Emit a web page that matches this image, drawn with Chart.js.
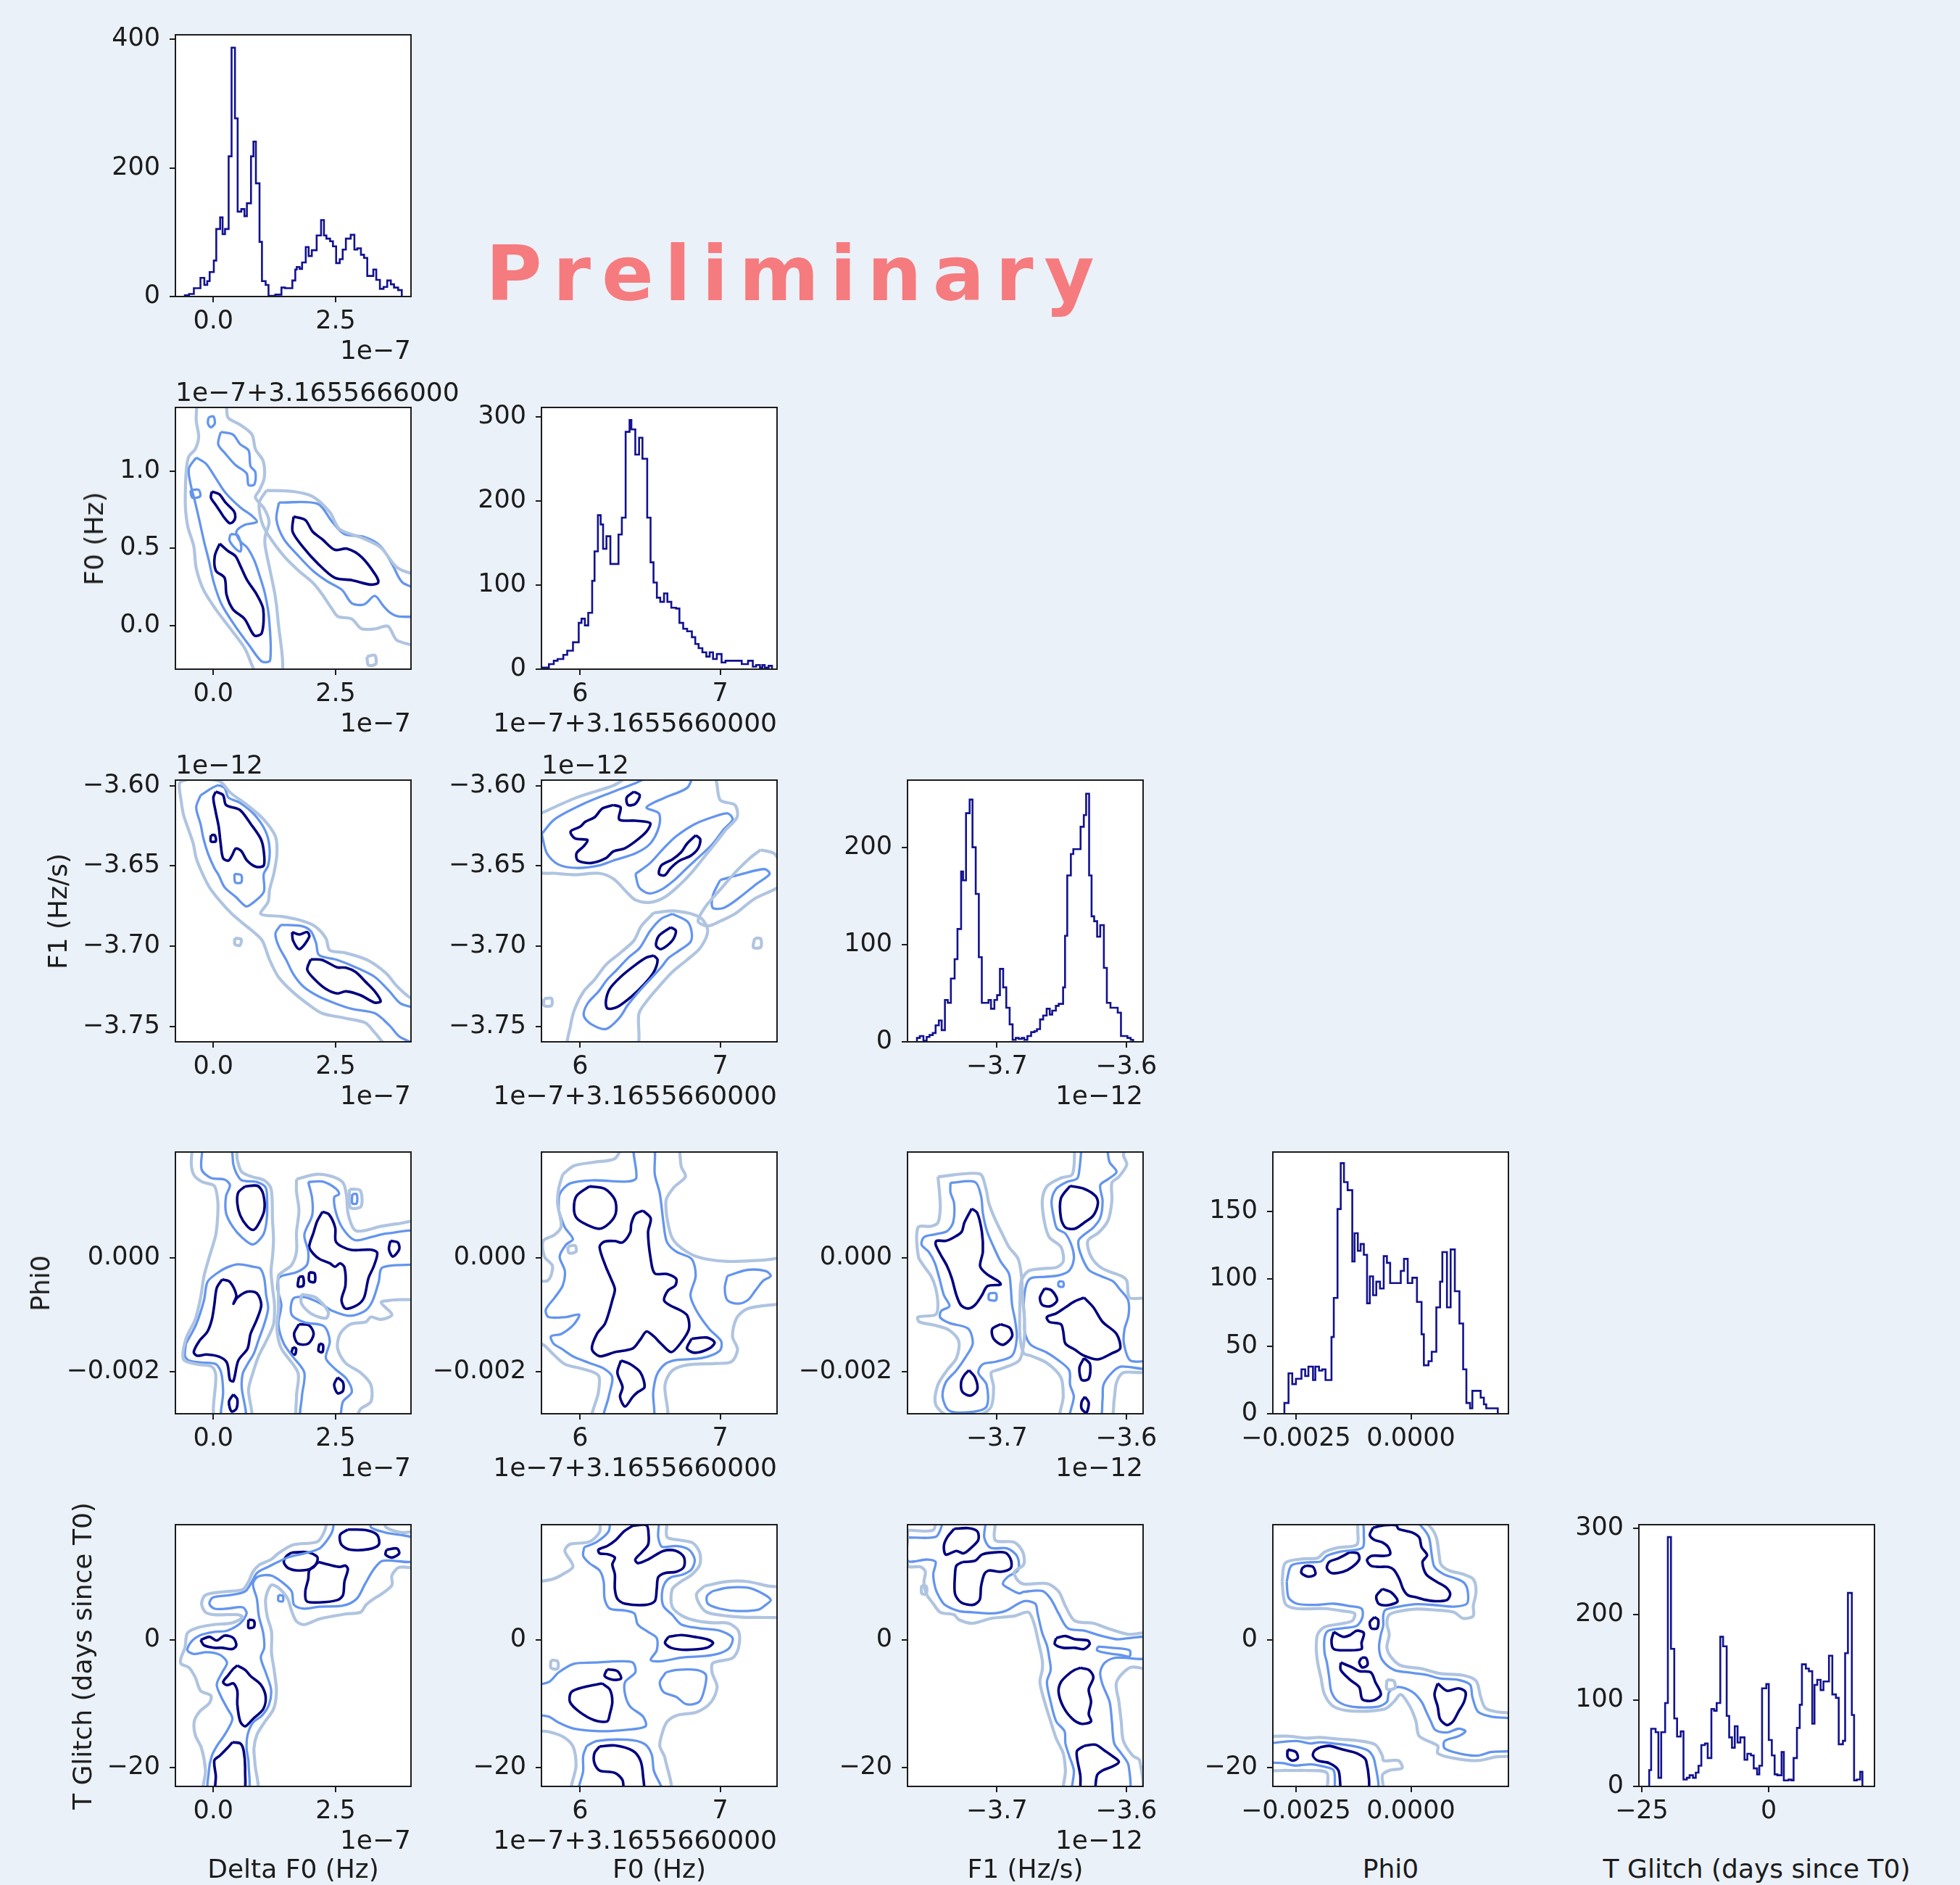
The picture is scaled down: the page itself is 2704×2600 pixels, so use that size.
<!DOCTYPE html>
<html>
<head>
<meta charset="utf-8">
<script src="https://cdn.jsdelivr.net/npm/chart.js@4.4.1/dist/chart.umd.min.js"></script>
<style>
  html, body { margin: 0; padding: 0; }
  body { position: relative; width: 2704px; height: 2600px; overflow: hidden; background: #ebf1f8;
         font-family: "DejaVu Sans", sans-serif; color: #1c1c1c; }
  canvas { position: absolute; }
  .t { position: absolute; white-space: nowrap; line-height: 1; }
</style>
</head>
<body>
<script>
// ---------- axis ranges / ticks (display units: Delta F0 x1e-7, F0 x1e-7 + offset, F1 x1e-12) ----------
const dF0Range = [-0.775, 4.04];
const dF0Ticks = [0, 2.5];
const dF0TickLabels = ['0.0', '2.5'];
const f0Range = [5.724, 7.406];
const f0Ticks = [6, 7];
const f0TickLabels = ['6', '7'];
const f0RowRange = [-0.280, 1.410];
const f0RowTicks = [0, 0.5, 1.0];
const f0RowTickLabels = ['0.0', '0.5', '1.0'];
const f1Range = [-3.769, -3.587];
const f1Ticks = [-3.7, -3.6];
const f1TickLabels = ['−3.7', '−3.6'];
const f1RowRange = [-3.7595, -3.5966];
const f1RowTicks = [-3.75, -3.70, -3.65, -3.60];
const f1RowTickLabels = ['−3.75', '−3.70', '−3.65', '−3.60'];
const phiRange = [-3.002e-3, 2.119e-3];
const phiTicks = [-0.0025, 0];
const phiTickLabels = ['−0.0025', '0.0000'];
const phiRowRange = [-2.733e-3, 1.852e-3];
const phiRowTicks = [-0.002, 0];
const phiRowTickLabels = ['−0.002', '0.000'];
const tgRange = [-25.55, 20.79];
const tgTicks = [-25, 0];
const tgTickLabels = ['−25', '0'];
const tgRowRange = [-23.0, 18.04];
const tgRowTicks = [-20, 0];
const tgRowTickLabels = ['−20', '0'];

const paramNames = ['Delta F0 (Hz)', 'F0 (Hz)', 'F1 (Hz/s)', 'Phi0', 'T Glitch (days since T0)'];
const colOffsets = ['1e−7', '1e−7+3.1655660000', '1e−12', '', ''];
const rowOffsets = ['', '1e−7+3.1655666000', '1e−12', '', ''];

// ---------- 1D histograms ----------
const dF0Edges = [-0.582,-0.497,-0.398,-0.263,-0.184,-0.124,-0.075,0.010,0.060,0.139,0.189,0.239,0.313,0.373,0.442,0.497,0.572,0.636,0.686,0.770,0.820,0.870,0.944,0.994,1.069,1.128,1.267,1.392,1.466,1.615,1.675,1.705,1.764,1.814,1.889,1.948,2.013,2.112,2.202,2.261,2.311,2.386,2.445,2.510,2.584,2.644,2.709,2.808,2.883,2.942,3.017,3.081,3.146,3.270,3.330,3.405,3.479,3.554,3.628,3.693,3.777,3.852];
const dF0Counts = [2,4,13,29,18,24,38,56,105,123,97,105,218,387,277,132,136,125,145,218,241,176,85,24,18,1,3,14,13,25,42,46,43,53,77,63,72,95,119,95,90,86,78,52,58,73,90,96,73,75,65,60,32,42,26,12,15,25,19,14,10];

const f0Edges = [5.733,5.777,5.812,5.839,5.880,5.908,5.949,5.990,6.010,6.034,6.058,6.086,6.103,6.127,6.147,6.164,6.188,6.216,6.240,6.274,6.298,6.325,6.353,6.366,6.394,6.421,6.445,6.479,6.503,6.524,6.548,6.572,6.599,6.623,6.651,6.685,6.709,6.736,6.764,6.798,6.822,6.846,6.873,6.901,6.925,6.949,6.976,7.010,7.038,7.079,7.130,7.154,7.199,7.233,7.257,7.284,7.301,7.318,7.346,7.370];
const f0Counts = [2,6,10,12,17,22,32,55,60,52,67,105,140,183,172,143,158,125,125,160,180,282,296,285,255,275,250,180,127,103,85,80,90,80,73,72,55,48,45,38,30,25,20,15,20,12,18,8,10,10,10,6,10,3,5,2,5,2,4];

const f1Edges = [-3.7617,-3.7595,-3.7567,-3.7542,-3.7520,-3.7495,-3.7473,-3.7448,-3.7426,-3.7401,-3.7379,-3.7355,-3.7326,-3.7304,-3.7276,-3.7261,-3.7238,-3.7210,-3.7188,-3.7163,-3.7139,-3.7116,-3.7064,-3.7045,-3.7019,-3.6998,-3.6976,-3.6951,-3.6927,-3.6901,-3.6878,-3.6854,-3.6831,-3.6807,-3.6788,-3.6764,-3.6735,-3.6709,-3.6690,-3.6666,-3.6642,-3.6615,-3.6591,-3.6572,-3.6544,-3.6522,-3.6488,-3.6473,-3.6456,-3.6428,-3.6409,-3.6353,-3.6328,-3.6310,-3.6287,-3.6268,-3.6248,-3.6225,-3.6201,-3.6173,-3.6150,-3.6122,-3.6103,-3.6066,-3.6041,-3.5991,-3.5966,-3.5947];
const f1Counts = [4,6,1,5,7,9,17,22,12,43,40,65,85,116,175,166,235,249,200,152,87,40,43,34,43,48,75,56,35,18,2,4,3,4,2,6,10,11,13,23,27,34,28,32,37,39,56,109,171,193,198,221,233,255,171,129,124,108,120,76,40,35,35,30,6,4,2];

const phiEdges = [-2.751e-3,-2.661e-3,-2.580e-3,-2.500e-3,-2.380e-3,-2.299e-3,-2.229e-3,-2.129e-3,-2.078e-3,-1.998e-3,-1.928e-3,-1.857e-3,-1.727e-3,-1.677e-3,-1.596e-3,-1.526e-3,-1.456e-3,-1.376e-3,-1.275e-3,-1.225e-3,-1.155e-3,-1.094e-3,-1.024e-3,-0.954e-3,-0.894e-3,-0.823e-3,-0.753e-3,-0.673e-3,-0.592e-3,-0.522e-3,-0.452e-3,-0.221e-3,-0.151e-3,-0.070e-3,0.030e-3,0.131e-3,0.231e-3,0.281e-3,0.382e-3,0.452e-3,0.552e-3,0.633e-3,0.683e-3,0.783e-3,0.863e-3,0.954e-3,1.054e-3,1.135e-3,1.205e-3,1.285e-3,1.335e-3,1.436e-3,1.516e-3,1.586e-3,1.637e-3,1.888e-3];
const phiCounts = [8,30,22,26,33,28,35,25,35,32,33,25,57,86,152,186,172,166,113,134,121,126,118,82,102,88,98,93,117,112,97,106,115,97,101,83,59,36,39,46,79,98,120,79,122,91,67,33,8,4,17,17,12,7,4];

const tgEdges = [-23.52,-23.14,-22.26,-21.71,-21.16,-20.39,-19.85,-19.24,-18.59,-18.04,-17.32,-16.78,-16.12,-15.57,-14.91,-14.36,-13.82,-13.27,-12.55,-12.01,-11.29,-10.75,-10.25,-9.54,-8.99,-8.28,-7.79,-7.24,-6.69,-6.14,-5.59,-4.77,-4.22,-3.51,-2.96,-2.30,-1.86,-1.32,-0.49,0.00,0.60,1.15,1.70,2.52,2.96,3.89,4.44,4.88,5.54,6.09,6.52,7.29,7.89,8.55,8.99,9.54,10.20,10.75,11.84,12.50,13.21,13.76,14.58,15.02,15.57,16.34,16.78,17.32,17.98,18.42];
const tgCounts = [19,67,63,10,63,97,290,160,79,58,64,8,10,13,10,16,24,48,50,33,90,88,97,174,163,82,57,45,70,51,57,31,38,36,21,14,24,114,119,54,36,14,13,40,7,8,7,33,68,95,142,137,134,73,118,124,112,122,152,107,103,49,53,155,225,83,7,8,17];

const histYMax = [407, 311, 269, 194.3, 304.4];
const histYTicks = [[0, 200, 400], [0, 100, 200, 300], [0, 100, 200], [0, 50, 100, 150], [0, 100, 200, 300]];

// ---------- 2D contour paths (three levels), x/y pairs ----------
const f0VsDf0Light = [
  [-0.33,1.455, 0.23,1.455, 0.30,1.345, 0.55,1.298, 0.79,1.235, 0.86,1.141, 1.02,1.063, 1.04,0.953, 0.94,0.875, 0.86,0.828, 1.04,0.757, 1.14,0.671, 1.06,0.577, 1.06,0.514, 1.16,0.357, 1.26,0.201, 1.32,0.044, 1.39,-0.332, 0.94,-0.332, 0.64,-0.144, 0.35,-0.019, 0.05,0.107, -0.20,0.232, -0.35,0.373, -0.40,0.514, -0.52,0.639, -0.57,0.765, -0.57,0.890, -0.55,1.016, -0.50,1.094, -0.37,1.141, -0.30,1.219, -0.35,1.329],
  [1.09,0.875, 1.64,0.867, 2.03,0.835, 2.38,0.734, 2.58,0.624, 3.03,0.569, 3.42,0.506, 3.77,0.373, 4.41,0.279, 4.41,-0.113, 3.77,-0.097, 3.57,-0.003, 3.32,-0.019, 3.03,-0.019, 2.83,0.044, 2.55,0.060, 2.43,0.107, 2.23,0.201, 2.03,0.279, 1.74,0.357, 1.44,0.451, 1.14,0.577, 0.99,0.671, 0.94,0.796],
  [3.14,-0.199, 3.30,-0.191, 3.32,-0.246, 3.17,-0.254]
];
const f0VsDf0Mid = [
  [-0.35,1.086, -0.15,1.047, 0.05,0.953, 0.25,0.859, 0.55,0.765, 0.79,0.710, 0.89,0.671, 0.64,0.652, 0.47,0.608, 0.55,0.545, 0.69,0.506, 0.84,0.420, 0.96,0.310, 1.06,0.201, 1.14,0.044, 1.16,-0.223, 0.99,-0.230, 0.74,-0.129, 0.45,-0.003, 0.17,0.138, 0.01,0.279, -0.09,0.420, -0.19,0.545, -0.29,0.687, -0.37,0.796, -0.47,0.922, -0.50,1.016],
  [0.15,1.251, 0.40,1.235, 0.55,1.172, 0.72,1.133, 0.76,1.031, 0.86,0.992, 0.84,0.914, 0.72,0.909, 0.68,0.984, 0.45,1.039, 0.25,1.110, 0.10,1.172],
  [-0.10,1.345, 0.0,1.353, 0.03,1.306, -0.05,1.282, -0.11,1.306],
  [0.35,0.592, 0.50,0.585, 0.57,0.514, 0.55,0.480, 0.43,0.506, 0.33,0.553],
  [-0.47,0.875, -0.30,0.878, -0.27,0.836, -0.43,0.828],
  [1.34,0.796, 2.13,0.788, 2.43,0.671, 2.68,0.592, 3.08,0.574, 3.42,0.514, 3.67,0.389, 3.87,0.279, 4.41,0.201, 4.32,0.075, 3.80,0.060, 3.62,0.083, 3.47,0.130, 3.30,0.193, 3.08,0.138, 2.83,0.146, 2.63,0.232, 2.33,0.287, 2.03,0.357, 1.74,0.451, 1.44,0.561, 1.29,0.687]
];
const f0VsDf0Dark = [
  [-0.03,0.867, 0.12,0.85, 0.25,0.796, 0.42,0.74, 0.45,0.702, 0.40,0.67, 0.33,0.663, 0.22,0.70, 0.15,0.733, 0.05,0.78, -0.05,0.828],
  [0.13,0.530, 0.03,0.451, 0.05,0.357, 0.23,0.310, 0.27,0.201, 0.40,0.107, 0.64,0.044, 0.84,-0.063, 0.99,-0.047, 1.02,0.107, 0.89,0.201, 0.69,0.295, 0.55,0.389, 0.45,0.451, 0.30,0.483],
  [1.64,0.705, 1.88,0.683, 2.03,0.608, 2.23,0.558, 2.48,0.491, 2.73,0.498, 3.03,0.444, 3.32,0.326, 3.37,0.279, 3.22,0.266, 2.83,0.295, 2.48,0.310, 2.13,0.404, 1.84,0.506, 1.62,0.608]
];

const f1VsDf0Light = [
  [-0.54,-3.5962, 0.11,-3.5970, 0.35,-3.6045, 0.69,-3.6121, 1.03,-3.6211, 1.27,-3.6317, 1.30,-3.6422, 1.24,-3.6543, 1.15,-3.6648, 1.12,-3.6724, 0.97,-3.6799, 1.38,-3.6814, 1.76,-3.6837, 2.07,-3.6874, 2.30,-3.6950, 2.38,-3.7025, 2.68,-3.7040, 3.14,-3.7085, 3.53,-3.7168, 3.76,-3.7251, 4.06,-3.7327, 4.68,-3.7387, 4.68,-3.7628, 3.60,-3.7628, 3.30,-3.7538, 3.11,-3.7477, 2.68,-3.7447, 2.22,-3.7417, 1.92,-3.7357, 1.61,-3.7281, 1.33,-3.7191, 1.15,-3.7085, 1.00,-3.6965, 0.81,-3.6908, 0.61,-3.6859, 0.38,-3.6799, 0.15,-3.6724, -0.08,-3.6633, -0.23,-3.6543, -0.35,-3.6452, -0.41,-3.6362, -0.51,-3.6271, -0.61,-3.6181, -0.66,-3.6090, -0.69,-3.5985],
  [0.44,-3.6950, 0.57,-3.6957, 0.54,-3.6995, 0.44,-3.6987]
];
const f1VsDf0Mid = [
  [-0.26,-3.6060, 0.08,-3.6000, 0.23,-3.6015, 0.31,-3.6075, 0.54,-3.6106, 0.84,-3.6181, 1.07,-3.6286, 1.15,-3.6392, 1.12,-3.6498, 1.03,-3.6550, 1.03,-3.6663, 0.77,-3.6739, 0.66,-3.6751, 0.46,-3.6694, 0.23,-3.6633, 0.11,-3.6558, 0.02,-3.6513, -0.11,-3.6422, -0.20,-3.6332, -0.26,-3.6241, -0.35,-3.6136],
  [1.38,-3.6867, 1.79,-3.6874, 1.99,-3.6905, 2.10,-3.6980, 2.16,-3.7055, 2.53,-3.7085, 2.91,-3.7131, 3.30,-3.7191, 3.60,-3.7281, 3.83,-3.7357, 4.37,-3.7417, 4.37,-3.7613, 3.83,-3.7568, 3.60,-3.7493, 3.30,-3.7417, 2.84,-3.7390, 2.53,-3.7360, 2.15,-3.7312, 1.84,-3.7251, 1.64,-3.7176, 1.49,-3.7085, 1.33,-3.6995, 1.27,-3.6920],
  [0.43,-3.6550, 0.57,-3.6558, 0.57,-3.6603, 0.45,-3.6603]
];
const f1VsDf0Dark = [
  [0.05,-3.6038, 0.20,-3.6060, 0.26,-3.6121, 0.54,-3.6151, 0.77,-3.6241, 0.97,-3.6332, 1.03,-3.6407, 1.03,-3.6498, 0.87,-3.6505, 0.69,-3.6467, 0.57,-3.6407, 0.46,-3.6392, 0.38,-3.6437, 0.31,-3.6467, 0.20,-3.6452, 0.15,-3.6362, 0.11,-3.6256, 0.05,-3.6166, 0.00,-3.6075],
  [-0.05,-3.6309, 0.03,-3.6309, 0.05,-3.6347, -0.05,-3.6347],
  [1.61,-3.6912, 1.76,-3.6927, 1.92,-3.6912, 1.96,-3.6942, 1.76,-3.7018, 1.63,-3.6965],
  [1.99,-3.7082, 2.22,-3.7085, 2.53,-3.7131, 2.71,-3.7134, 2.91,-3.7161, 3.11,-3.7221, 3.30,-3.7281, 3.42,-3.7342, 3.30,-3.7351, 3.00,-3.7304, 2.71,-3.7281, 2.53,-3.7294, 2.30,-3.7266, 2.07,-3.7206, 1.92,-3.7146]
];

const f1VsF0Light = [
  [5.700,-3.6181, 5.974,-3.6075, 6.237,-3.6000, 6.368,-3.5940, 6.947,-3.5940, 7.0,-3.6090, 7.105,-3.6121, 7.121,-3.6196, 7.037,-3.6279, 6.963,-3.6362, 6.879,-3.6452, 6.795,-3.6543, 6.711,-3.6618, 6.605,-3.6694, 6.500,-3.6727, 6.395,-3.6712, 6.332,-3.6663, 6.237,-3.6580, 6.132,-3.6546, 5.974,-3.6555, 5.816,-3.6546, 5.700,-3.6531],
  [7.289,-3.6400, 7.395,-3.6430, 7.447,-3.6603, 7.237,-3.6709, 7.105,-3.6799, 7.0,-3.6844, 6.911,-3.6874, 6.842,-3.6844, 6.895,-3.6754, 7.0,-3.6648, 7.105,-3.6543, 7.211,-3.6452],
  [6.526,-3.6792, 6.684,-3.6781, 6.858,-3.6822, 6.911,-3.6905, 6.858,-3.7010, 6.763,-3.7085, 6.658,-3.7161, 6.563,-3.7251, 6.489,-3.7327, 6.421,-3.7417, 6.395,-3.7628, 5.921,-3.7628, 5.932,-3.7493, 5.963,-3.7387, 6.026,-3.7281, 6.105,-3.7206, 6.184,-3.7116, 6.289,-3.7040, 6.384,-3.6965, 6.437,-3.6874],
  [5.742,-3.7327, 5.795,-3.7324, 5.795,-3.7369, 5.742,-3.7369],
  [7.247,-3.6950, 7.289,-3.6953, 7.289,-3.7007, 7.237,-3.7007]
];
const f1VsF0Mid = [
  [5.726,-3.6302, 5.816,-3.6211, 6.026,-3.6113, 6.237,-3.6038, 6.395,-3.5985, 6.500,-3.5947, 6.789,-3.5947, 6.763,-3.6015, 6.605,-3.6075, 6.474,-3.6136, 6.563,-3.6173, 6.563,-3.6256, 6.500,-3.6362, 6.395,-3.6422, 6.237,-3.6467, 6.132,-3.6498, 5.974,-3.6513, 5.842,-3.6490, 5.763,-3.6422],
  [6.395,-3.6550, 6.500,-3.6482, 6.595,-3.6392, 6.684,-3.6317, 6.816,-3.6241, 6.947,-3.6196, 7.053,-3.6173, 7.089,-3.6211, 7.026,-3.6272, 6.947,-3.6362, 6.858,-3.6437, 6.763,-3.6513, 6.684,-3.6580, 6.579,-3.6648, 6.489,-3.6671, 6.421,-3.6633],
  [7.0,-3.6588, 7.158,-3.6550, 7.316,-3.6520, 7.353,-3.6550, 7.263,-3.6610, 7.132,-3.6701, 7.026,-3.6761, 6.947,-3.6761, 6.947,-3.6686],
  [6.658,-3.6799, 6.763,-3.6844, 6.795,-3.6905, 6.789,-3.6972, 6.711,-3.7025, 6.632,-3.7073, 6.579,-3.7131, 6.500,-3.7206, 6.421,-3.7281, 6.342,-3.7364, 6.279,-3.7447, 6.184,-3.7515, 6.079,-3.7485, 6.026,-3.7432, 6.053,-3.7357, 6.132,-3.7281, 6.195,-3.7206, 6.263,-3.7146, 6.342,-3.7073, 6.426,-3.7010, 6.500,-3.6905, 6.579,-3.6829]
];
const f1VsF0Dark = [
  [6.237,-3.6121, 6.289,-3.6136, 6.279,-3.6211, 6.395,-3.6219, 6.500,-3.6234, 6.474,-3.6286, 6.395,-3.6347, 6.316,-3.6392, 6.237,-3.6410, 6.184,-3.6452, 6.079,-3.6482, 5.984,-3.6467, 5.974,-3.6422, 6.026,-3.6377, 6.053,-3.6339, 5.963,-3.6329, 5.932,-3.6286, 6.000,-3.6256, 6.037,-3.6226, 6.105,-3.6196, 6.158,-3.6143],
  [6.384,-3.6038, 6.426,-3.6060, 6.395,-3.6113, 6.342,-3.6121, 6.332,-3.6075],
  [6.826,-3.6309, 6.858,-3.6335, 6.842,-3.6392, 6.789,-3.6437, 6.711,-3.6467, 6.647,-3.6513, 6.605,-3.6558, 6.563,-3.6550, 6.579,-3.6498, 6.658,-3.6460, 6.721,-3.6415, 6.763,-3.6362],
  [6.647,-3.6882, 6.684,-3.6905, 6.658,-3.6965, 6.579,-3.7018, 6.542,-3.6995, 6.563,-3.6935],
  [6.526,-3.7058, 6.553,-3.7085, 6.526,-3.7161, 6.458,-3.7236, 6.368,-3.7312, 6.263,-3.7379, 6.195,-3.7387, 6.184,-3.7342, 6.211,-3.7266, 6.289,-3.7191, 6.395,-3.7116, 6.474,-3.7070]
];

const phiVsDf0Light = [
  [-0.43,1.928e-3, -0.45,1.631e-3, -0.39,1.441e-3, -0.22,1.326e-3, 0.02,1.258e-3, 0.09,0.996e-3, 0.09,0.742e-3, 0.05,0.403e-3, -0.08,0.021e-3, -0.19,-0.318e-3, -0.26,-0.699e-3, -0.37,-1.081e-3, -0.56,-1.419e-3, -0.61,-1.780e-3, -0.35,-1.864e-3, -0.03,-1.907e-3, 0.05,-2.055e-3, 0.05,-2.860e-3, 0.76,-2.860e-3, 0.72,-2.309e-3, 0.81,-2.013e-3, 0.93,-1.716e-3, 1.08,-1.462e-3, 1.23,-1.165e-3, 1.25,-0.826e-3, 1.21,-0.530e-3, 1.18,-0.233e-3, 1.21,0.021e-3, 1.23,0.318e-3, 1.21,0.657e-3, 1.18,1.208e-3, 1.04,1.356e-3, 0.79,1.419e-3, 0.58,1.504e-3, 0.49,1.716e-3, 0.44,1.928e-3],
  [1.70,1.377e-3, 2.12,1.462e-3, 2.44,1.419e-3, 2.65,1.314e-3, 2.72,1.100e-3, 2.76,0.750e-3, 2.92,0.470e-3, 3.43,0.551e-3, 3.75,0.593e-3, 4.28,0.614e-3, 4.28,-0.657e-3, 3.65,-0.742e-3, 3.43,-0.784e-3, 3.65,-0.996e-3, 3.43,-1.081e-3, 3.22,-1.038e-3, 3.12,-1.123e-3, 2.80,-1.165e-3, 2.59,-1.335e-3, 2.54,-1.589e-3, 2.70,-1.843e-3, 3.01,-2.013e-3, 3.22,-2.225e-3, 3.22,-2.521e-3, 3.01,-2.648e-3, 2.86,-2.860e-3, 1.75,-2.860e-3, 1.70,-2.436e-3, 1.73,-2.013e-3, 1.39,-1.589e-3, 1.30,-1.250e-3, 1.33,-0.911e-3, 1.33,-0.572e-3, 1.33,-0.318e-3, 1.44,-0.233e-3, 1.60,-0.127e-3, 1.70,0.106e-3, 1.70,0.445e-3, 1.75,0.826e-3, 1.70,1.165e-3],
  [2.78,1.200e-3, 3.00,1.180e-3, 3.02,0.900e-3, 2.80,0.880e-3],
  [1.80,-0.640e-3, 2.10,-0.700e-3, 2.35,-0.950e-3, 2.30,-1.060e-3, 2.00,-0.980e-3, 1.80,-0.800e-3]
];
const phiVsDf0Mid = [
  [-0.22,1.928e-3, -0.24,1.547e-3, -0.05,1.398e-3, 0.23,1.369e-3, 0.34,1.271e-3, 0.26,1.081e-3, 0.26,0.784e-3, 0.39,0.551e-3, 0.58,0.360e-3, 0.81,0.233e-3, 1.02,0.403e-3, 1.09,0.657e-3, 1.10,0.996e-3, 1.07,1.229e-3, 0.89,1.326e-3, 0.58,1.356e-3, 0.47,1.483e-3, 0.41,1.631e-3, 0.34,1.928e-3],
  [-0.56,-1.504e-3, -0.35,-1.165e-3, -0.19,-0.742e-3, -0.12,-0.424e-3, 0.07,-0.275e-3, 0.28,-0.169e-3, 0.51,-0.114e-3, 0.81,-0.157e-3, 0.96,-0.191e-3, 1.04,-0.360e-3, 1.08,-0.657e-3, 1.12,-0.890e-3, 1.04,-1.165e-3, 0.93,-1.428e-3, 0.83,-1.674e-3, 0.70,-1.864e-3, 0.60,-2.034e-3, 0.58,-2.267e-3, 0.65,-2.860e-3, 0.18,-2.860e-3, 0.20,-2.352e-3, 0.16,-2.013e-3, 0.05,-1.864e-3, -0.24,-1.835e-3, -0.50,-1.801e-3, -0.58,-1.716e-3],
  [1.94,1.326e-3, 2.23,1.335e-3, 2.51,1.208e-3, 2.57,1.114e-3, 2.47,1.059e-3, 2.51,0.784e-3, 2.65,0.508e-3, 2.89,0.309e-3, 3.22,0.360e-3, 3.54,0.424e-3, 4.28,0.445e-3, 4.28,-0.064e-3, 3.46,-0.169e-3, 3.38,-0.424e-3, 3.25,-0.763e-3, 3.10,-0.932e-3, 2.80,-1.017e-3, 2.44,-0.932e-3, 2.17,-0.792e-3, 1.86,-0.691e-3, 1.63,-0.720e-3, 1.60,-0.996e-3, 1.86,-1.131e-3, 2.26,-1.199e-3, 2.38,-1.462e-3, 2.30,-1.758e-3, 2.49,-1.949e-3, 2.72,-2.119e-3, 2.83,-2.352e-3, 2.65,-2.521e-3, 2.54,-2.860e-3, 1.81,-2.860e-3, 1.81,-2.436e-3, 1.86,-2.013e-3, 1.63,-1.737e-3, 1.44,-1.504e-3, 1.33,-1.165e-3, 1.39,-0.826e-3, 1.31,-0.530e-3, 1.36,-0.339e-3, 1.70,-0.254e-3, 1.91,-0.127e-3, 1.94,0.106e-3, 1.86,0.403e-3, 2.02,0.742e-3, 2.02,1.038e-3],
  [2.84,1.114e-3, 2.93,1.114e-3, 2.93,0.953e-3, 2.84,0.953e-3]
];
const phiVsDf0Dark = [
  [0.65,1.250e-3, 0.91,1.258e-3, 1.02,1.114e-3, 1.04,0.826e-3, 0.91,0.572e-3, 0.81,0.487e-3, 0.68,0.564e-3, 0.55,0.742e-3, 0.49,0.953e-3, 0.51,1.144e-3],
  [0.18,-0.381e-3, 0.34,-0.424e-3, 0.47,-0.657e-3, 0.41,-0.805e-3, 0.49,-0.699e-3, 0.70,-0.593e-3, 0.89,-0.623e-3, 0.98,-0.826e-3, 0.89,-1.081e-3, 0.76,-1.335e-3, 0.70,-1.589e-3, 0.51,-1.801e-3, 0.41,-2.161e-3, 0.34,-2.140e-3, 0.28,-1.843e-3, 0.13,-1.737e-3, -0.14,-1.695e-3, -0.33,-1.716e-3, -0.40,-1.653e-3, -0.29,-1.462e-3, -0.12,-1.292e-3, -0.03,-1.081e-3, 0.02,-0.826e-3, 0.07,-0.530e-3],
  [0.41,-2.394e-3, 0.49,-2.479e-3, 0.47,-2.648e-3, 0.37,-2.691e-3, 0.32,-2.521e-3],
  [2.23,0.805e-3, 2.36,0.763e-3, 2.49,0.530e-3, 2.51,0.275e-3, 2.80,0.140e-3, 3.22,0.140e-3, 3.35,0.085e-3, 3.28,-0.148e-3, 3.17,-0.360e-3, 3.08,-0.699e-3, 2.93,-0.835e-3, 2.70,-0.890e-3, 2.62,-0.742e-3, 2.70,-0.487e-3, 2.68,-0.169e-3, 2.59,-0.097e-3, 2.49,-0.157e-3, 2.38,-0.097e-3, 2.17,-0.021e-3, 2.05,0.064e-3, 1.96,0.191e-3, 2.05,0.445e-3, 2.12,0.636e-3],
  [3.62,0.297e-3, 3.77,0.267e-3, 3.80,0.148e-3, 3.67,0.021e-3, 3.59,0.148e-3],
  [1.75,-0.339e-3, 1.83,-0.331e-3, 1.84,-0.487e-3, 1.73,-0.500e-3],
  [1.96,-0.254e-3, 2.07,-0.275e-3, 2.07,-0.424e-3, 1.96,-0.403e-3],
  [1.75,-1.165e-3, 1.96,-1.186e-3, 2.05,-1.335e-3, 1.94,-1.504e-3, 1.73,-1.504e-3, 1.65,-1.335e-3],
  [1.63,-1.568e-3, 1.69,-1.589e-3, 1.67,-1.695e-3, 1.60,-1.674e-3],
  [2.17,-1.504e-3, 2.24,-1.525e-3, 2.23,-1.653e-3, 2.15,-1.631e-3],
  [2.54,-2.097e-3, 2.65,-2.182e-3, 2.65,-2.331e-3, 2.54,-2.373e-3, 2.47,-2.225e-3]
];

const phiVsF0Light = [
  [5.876,1.462e-3, 5.956,1.610e-3, 6.102,1.674e-3, 6.248,1.737e-3, 6.321,1.970e-3, 6.686,1.970e-3, 6.723,1.589e-3, 6.752,1.419e-3, 6.668,1.229e-3, 6.613,0.996e-3, 6.642,0.445e-3, 6.693,0.233e-3, 6.832,0.021e-3, 7.051,-0.064e-3, 7.307,-0.042e-3, 7.562,-0.021e-3, 7.562,-0.699e-3, 7.197,-0.890e-3, 7.117,-1.059e-3, 7.088,-1.377e-3, 7.124,-1.610e-3, 7.080,-1.822e-3, 6.971,-1.852e-3, 6.766,-1.877e-3, 6.657,-1.979e-3, 6.606,-2.225e-3, 6.606,-2.860e-3, 6.095,-2.860e-3, 6.131,-2.352e-3, 6.131,-2.064e-3, 6.022,-1.949e-3, 5.891,-1.864e-3, 5.810,-1.695e-3, 5.737,-1.525e-3, 5.591,-1.377e-3, 5.591,-0.403e-3, 5.766,-0.403e-3, 5.803,-0.148e-3, 5.745,0.021e-3, 5.737,0.297e-3, 5.818,0.403e-3, 5.865,0.551e-3, 5.839,0.953e-3, 5.847,1.208e-3],
  [5.912,0.199e-3, 5.964,0.212e-3, 5.971,0.106e-3, 5.920,0.085e-3]
];
const phiVsF0Mid = [
  [5.847,0.826e-3, 5.854,1.114e-3, 5.927,1.301e-3, 6.084,1.356e-3, 6.339,1.335e-3, 6.401,1.398e-3, 6.387,1.970e-3, 6.522,1.970e-3, 6.533,1.462e-3, 6.569,1.123e-3, 6.595,0.614e-3, 6.620,0.275e-3, 6.686,0.106e-3, 6.796,-0.021e-3, 6.825,-0.318e-3, 6.788,-0.657e-3, 6.832,-0.932e-3, 6.923,-1.250e-3, 7.007,-1.462e-3, 6.996,-1.631e-3, 6.869,-1.758e-3, 6.686,-1.792e-3, 6.606,-1.864e-3, 6.547,-2.055e-3, 6.522,-2.352e-3, 6.511,-2.860e-3, 6.175,-2.860e-3, 6.204,-2.436e-3, 6.230,-2.097e-3, 6.175,-1.949e-3, 6.066,-1.843e-3, 5.956,-1.737e-3, 5.865,-1.589e-3, 5.810,-1.504e-3, 5.792,-1.377e-3, 5.865,-1.335e-3, 5.956,-1.165e-3, 5.993,-0.996e-3, 5.901,-1.038e-3, 5.774,-1.038e-3, 5.755,-0.911e-3, 5.818,-0.699e-3, 5.876,-0.487e-3, 5.891,-0.233e-3, 5.854,0.021e-3, 5.901,0.233e-3, 5.949,0.326e-3, 5.891,0.530e-3],
  [7.051,-0.318e-3, 7.197,-0.212e-3, 7.325,-0.233e-3, 7.361,-0.318e-3, 7.307,-0.403e-3, 7.252,-0.572e-3, 7.197,-0.742e-3, 7.124,-0.805e-3, 7.051,-0.742e-3, 7.033,-0.530e-3]
];
const phiVsF0Dark = [
  [6.066,1.250e-3, 6.175,1.208e-3, 6.248,1.017e-3, 6.255,0.784e-3, 6.212,0.614e-3, 6.139,0.508e-3, 6.036,0.593e-3, 5.974,0.699e-3, 5.956,0.869e-3, 5.974,1.081e-3],
  [6.449,0.826e-3, 6.504,0.691e-3, 6.485,0.445e-3, 6.504,-0.021e-3, 6.533,-0.275e-3, 6.620,-0.284e-3, 6.686,-0.369e-3, 6.679,-0.487e-3, 6.628,-0.572e-3, 6.599,-0.742e-3, 6.642,-0.835e-3, 6.715,-0.919e-3, 6.766,-1.017e-3, 6.777,-1.250e-3, 6.715,-1.504e-3, 6.650,-1.653e-3, 6.577,-1.504e-3, 6.526,-1.377e-3, 6.474,-1.292e-3, 6.431,-1.428e-3, 6.376,-1.589e-3, 6.248,-1.653e-3, 6.139,-1.725e-3, 6.084,-1.597e-3, 6.120,-1.335e-3, 6.175,-1.165e-3, 6.201,-0.996e-3, 6.230,-0.742e-3, 6.248,-0.551e-3, 6.219,-0.360e-3, 6.182,-0.148e-3, 6.139,0.191e-3, 6.175,0.284e-3, 6.248,0.292e-3, 6.303,0.267e-3, 6.358,0.445e-3, 6.365,0.593e-3, 6.394,0.763e-3],
  [6.796,-1.419e-3, 6.905,-1.398e-3, 6.960,-1.483e-3, 6.923,-1.589e-3, 6.818,-1.665e-3, 6.763,-1.589e-3],
  [6.292,-1.801e-3, 6.358,-1.864e-3, 6.431,-2.013e-3, 6.460,-2.267e-3, 6.412,-2.352e-3, 6.376,-2.436e-3, 6.321,-2.606e-3, 6.285,-2.436e-3, 6.303,-2.267e-3, 6.266,-2.013e-3]
];

const phiVsF1Light = [
  [-3.7455,1.419e-3, -3.7133,1.470e-3, -3.7086,1.229e-3, -3.7061,0.953e-3, -3.7014,0.678e-3, -3.6964,0.445e-3, -3.6907,0.191e-3, -3.6835,-0.021e-3, -3.6810,-0.318e-3, -3.6799,-0.742e-3, -3.6785,-1.165e-3, -3.6792,-1.504e-3, -3.6828,-1.801e-3, -3.6971,-1.949e-3, -3.7043,-2.013e-3, -3.7025,-2.267e-3, -3.7043,-2.606e-3, -3.7115,-2.733e-3, -3.7384,-2.754e-3, -3.7473,-2.564e-3, -3.7455,-2.225e-3, -3.7384,-1.970e-3, -3.7312,-1.758e-3, -3.7294,-1.462e-3, -3.7366,-1.271e-3, -3.7473,-1.186e-3, -3.7599,-1.123e-3, -3.7609,-1.038e-3, -3.7473,-0.996e-3, -3.7455,-0.826e-3, -3.7473,-0.530e-3, -3.7509,-0.318e-3, -3.7563,-0.148e-3, -3.7606,0.021e-3, -3.7609,0.530e-3, -3.7509,0.551e-3, -3.7455,0.614e-3, -3.7437,0.869e-3, -3.7444,1.165e-3],
  [-3.6398,1.970e-3, -3.6004,1.970e-3, -3.6022,1.801e-3, -3.5996,1.631e-3, -3.6057,1.419e-3, -3.6111,1.314e-3, -3.6111,0.996e-3, -3.6140,0.657e-3, -3.6211,0.445e-3, -3.6297,0.297e-3, -3.6272,0.021e-3, -3.6183,-0.191e-3, -3.6039,-0.318e-3, -3.5996,-0.403e-3, -3.5975,-0.699e-3, -3.5850,-0.742e-3, -3.5850,-1.970e-3, -3.6022,-2.013e-3, -3.6075,-2.182e-3, -3.6093,-2.479e-3, -3.6129,-2.860e-3, -3.6505,-2.860e-3, -3.6487,-2.436e-3, -3.6505,-2.097e-3, -3.6613,-1.843e-3, -3.6738,-1.716e-3, -3.6792,-1.674e-3, -3.6821,-1.377e-3, -3.6821,-0.742e-3, -3.6810,-0.403e-3, -3.6756,-0.233e-3, -3.6649,-0.191e-3, -3.6541,-0.169e-3, -3.6487,-0.064e-3, -3.6505,0.191e-3, -3.6595,0.360e-3, -3.6631,0.614e-3, -3.6649,0.996e-3, -3.6613,1.250e-3, -3.6505,1.398e-3, -3.6416,1.462e-3]
];
const phiVsF1Mid = [
  [-3.7358,1.314e-3, -3.7168,1.326e-3, -3.7122,1.081e-3, -3.7108,0.784e-3, -3.7079,0.487e-3, -3.7025,0.191e-3, -3.6971,-0.064e-3, -3.6907,-0.275e-3, -3.6892,-0.530e-3, -3.6882,-0.826e-3, -3.6857,-1.123e-3, -3.6846,-1.419e-3, -3.6882,-1.716e-3, -3.7007,-1.822e-3, -3.7108,-1.864e-3, -3.7143,-2.013e-3, -3.7079,-2.225e-3, -3.7079,-2.606e-3, -3.7186,-2.699e-3, -3.7366,-2.682e-3, -3.7419,-2.436e-3, -3.7394,-2.182e-3, -3.7312,-1.970e-3, -3.7240,-1.737e-3, -3.7186,-1.504e-3, -3.7222,-1.242e-3, -3.7366,-1.144e-3, -3.7437,-1.047e-3, -3.7430,-0.932e-3, -3.7366,-0.847e-3, -3.7409,-0.657e-3, -3.7444,-0.360e-3, -3.7480,-0.085e-3, -3.7527,0.106e-3, -3.7581,0.225e-3, -3.7563,0.360e-3, -3.7473,0.411e-3, -3.7384,0.466e-3, -3.7337,0.623e-3, -3.7330,0.953e-3, -3.7358,1.144e-3],
  [-3.6344,1.970e-3, -3.6165,1.970e-3, -3.6129,1.674e-3, -3.6075,1.504e-3, -3.6140,1.377e-3, -3.6201,1.271e-3, -3.6183,0.996e-3, -3.6201,0.699e-3, -3.6254,0.530e-3, -3.6326,0.403e-3, -3.6369,0.297e-3, -3.6355,0.085e-3, -3.6290,-0.212e-3, -3.6201,-0.318e-3, -3.6104,-0.411e-3, -3.6050,-0.551e-3, -3.5986,-0.742e-3, -3.5982,-1.004e-3, -3.6014,-1.258e-3, -3.6018,-1.504e-3, -3.5968,-1.801e-3, -3.5824,-1.822e-3, -3.5824,-1.949e-3, -3.6039,-1.907e-3, -3.6111,-2.013e-3, -3.6176,-2.225e-3, -3.6183,-2.479e-3, -3.6211,-2.860e-3, -3.6434,-2.860e-3, -3.6405,-2.436e-3, -3.6434,-2.225e-3, -3.6441,-1.970e-3, -3.6534,-1.780e-3, -3.6620,-1.653e-3, -3.6738,-1.525e-3, -3.6785,-1.292e-3, -3.6785,-1.038e-3, -3.6792,-0.805e-3, -3.6774,-0.487e-3, -3.6738,-0.360e-3, -3.6631,-0.335e-3, -3.6523,-0.309e-3, -3.6441,-0.225e-3, -3.6405,-0.021e-3, -3.6419,0.191e-3, -3.6470,0.424e-3, -3.6534,0.508e-3, -3.6559,0.699e-3, -3.6577,0.996e-3, -3.6541,1.208e-3, -3.6462,1.326e-3, -3.6380,1.386e-3, -3.6362,1.547e-3],
  [-3.6523,-0.411e-3, -3.6487,-0.424e-3, -3.6487,-0.508e-3, -3.6523,-0.496e-3],
  [-3.7061,-0.623e-3, -3.7007,-0.623e-3, -3.7007,-0.742e-3, -3.7061,-0.733e-3]
];
const phiVsF1Dark = [
  [-3.7194,0.860e-3, -3.7151,0.784e-3, -3.7115,0.445e-3, -3.7108,0.106e-3, -3.7129,-0.148e-3, -3.7079,-0.284e-3, -3.6989,-0.411e-3, -3.6971,-0.470e-3, -3.7072,-0.496e-3, -3.7115,-0.657e-3, -3.7168,-0.826e-3, -3.7222,-0.890e-3, -3.7276,-0.835e-3, -3.7312,-0.657e-3, -3.7348,-0.360e-3, -3.7384,-0.148e-3, -3.7437,0.064e-3, -3.7473,0.233e-3, -3.7466,0.297e-3, -3.7394,0.297e-3, -3.7330,0.360e-3, -3.7272,0.453e-3, -3.7251,0.614e-3],
  [-3.6434,1.258e-3, -3.6326,1.208e-3, -3.6237,1.081e-3, -3.6219,0.953e-3, -3.6254,0.742e-3, -3.6326,0.614e-3, -3.6398,0.508e-3, -3.6470,0.530e-3, -3.6505,0.699e-3, -3.6505,1.038e-3],
  [-3.6326,-0.699e-3, -3.6254,-0.869e-3, -3.6183,-1.123e-3, -3.6075,-1.335e-3, -3.6047,-1.589e-3, -3.6111,-1.674e-3, -3.6219,-1.780e-3, -3.6326,-1.716e-3, -3.6398,-1.610e-3, -3.6470,-1.504e-3, -3.6487,-1.292e-3, -3.6505,-1.165e-3, -3.6595,-1.123e-3, -3.6613,-1.038e-3, -3.6541,-0.975e-3, -3.6470,-0.869e-3, -3.6398,-0.763e-3],
  [-3.6631,-0.538e-3, -3.6577,-0.572e-3, -3.6534,-0.742e-3, -3.6584,-0.847e-3, -3.6649,-0.826e-3, -3.6667,-0.699e-3],
  [-3.6971,-1.165e-3, -3.6900,-1.229e-3, -3.6882,-1.377e-3, -3.6953,-1.525e-3, -3.7025,-1.419e-3, -3.7036,-1.250e-3],
  [-3.7215,-1.970e-3, -3.7168,-2.097e-3, -3.7151,-2.309e-3, -3.7204,-2.415e-3, -3.7265,-2.352e-3, -3.7276,-2.182e-3, -3.7251,-2.055e-3],
  [-3.6326,-1.758e-3, -3.6280,-1.864e-3, -3.6290,-2.119e-3, -3.6344,-2.140e-3, -3.6362,-1.928e-3],
  [-3.6319,-2.436e-3, -3.6290,-2.542e-3, -3.6308,-2.712e-3, -3.6344,-2.648e-3, -3.6344,-2.521e-3]
];

const tgVsDf0Light = [
  [2.17,19.50, 3.38,19.50, 3.54,17.58, 3.85,16.81, 4.28,16.81, 4.28,11.42, 3.80,11.35, 3.65,10.08, 3.65,8.54, 3.43,7.12, 3.28,6.42, 3.12,5.46, 3.01,4.31, 2.70,4.04, 2.17,3.27, 1.86,2.38, 1.70,2.88, 1.60,4.50, 1.52,6.42, 1.33,8.15, 1.18,8.54, 1.07,6.42, 1.10,3.73, 1.19,1.23, 1.19,-2.04, 1.25,-5.12, 1.29,-8.19, 1.23,-10.88, 1.04,-13.0, 0.89,-14.92, 0.83,-17.04, 0.85,-19.35, 0.87,-24.35, -0.18,-24.35, -0.16,-20.5, -0.24,-17.04, -0.37,-14.92, -0.39,-12.81, -0.28,-11.27, -0.08,-9.92, -0.05,-8.77, -0.26,-8.0, -0.37,-5.88, -0.50,-4.35, -0.66,-3.77, -0.66,-2.81, -0.58,-1.27, -0.53,1.04, -0.33,1.88, 0.02,2.38, 0.39,2.65, 0.60,3.54, 0.49,3.92, 0.02,3.92, -0.16,4.31, -0.24,5.65, -0.16,7.0, 0.18,7.5, 0.60,7.88, 0.72,9.12, 0.81,10.65, 0.94,11.73, 1.18,12.58, 1.33,13.54, 1.63,14.88, 2.12,15.35, 2.26,16.81, 2.30,18.35]
];
const tgVsDf0Mid = [
  [2.47,19.50, 3.22,19.50, 3.22,17.65, 3.52,16.81, 4.17,15.65, 4.17,12.38, 3.46,12.38, 3.28,11.04, 3.10,8.73, 2.93,6.42, 2.65,5.35, 2.17,5.19, 1.84,4.88, 1.65,5.46, 1.60,7.58, 1.39,9.12, 1.18,10.08, 0.91,9.88, 0.81,8.73, 0.89,6.42, 0.93,3.73, 1.02,1.04, 1.04,-1.27, 0.97,-2.81, 1.07,-5.12, 1.18,-7.81, 1.14,-10.12, 1.00,-11.85, 0.81,-13.0, 0.70,-14.92, 0.68,-17.04, 0.72,-19.35, 0.68,-24.35, -0.08,-24.35, -0.09,-20.5, -0.03,-18.19, 0.09,-16.46, 0.23,-14.92, 0.39,-12.42, 0.28,-10.69, 0.16,-8.96, 0.07,-7.04, 0.18,-5.12, 0.28,-3.58, 0.13,-2.35, -0.14,-1.96, -0.40,-2.23, -0.53,-1.65, -0.45,-0.31, -0.26,0.73, 0.02,1.23, 0.28,1.42, 0.55,2.58, 0.68,4.12, 0.60,5.08, 0.28,4.88, 0.02,4.88, -0.08,5.65, -0.01,6.62, 0.34,7.0, 0.65,7.58, 0.79,9.12, 0.89,10.46, 1.12,11.42, 1.54,12.96, 1.86,13.54, 2.17,14.31, 2.33,15.65, 2.44,17.19],
  [1.33,7.0, 1.42,6.88, 1.42,6.04, 1.33,6.12]
];
const tgVsDf0Dark = [
  [2.75,17.27, 3.12,17.19, 3.35,16.42, 3.38,14.88, 3.17,14.19, 2.80,14.12, 2.62,14.88, 2.59,16.42],
  [3.54,14.12, 3.75,14.31, 3.80,13.54, 3.65,12.88, 3.52,13.35],
  [1.60,13.65, 1.91,13.73, 2.12,13.04, 2.12,12.19, 2.02,11.23, 1.75,10.85, 1.53,11.23, 1.44,12.19, 1.50,13.15],
  [2.15,12.19, 2.38,11.73, 2.59,11.42, 2.70,11.62, 2.75,11.04, 2.68,9.12, 2.65,7.0, 2.54,6.23, 2.17,5.85, 1.91,6.04, 1.88,7.58, 1.94,9.50, 1.96,10.85, 2.07,11.62],
  [0.72,3.15, 0.83,2.96, 0.83,2.0, 0.72,1.88],
  [-0.26,-0.04, -0.08,0.46, 0.07,-0.12, 0.23,0.65, 0.41,0.27, 0.47,-0.88, 0.39,-1.46, 0.18,-1.27, 0.02,-1.27, -0.19,-0.88],
  [0.49,-4.04, 0.65,-4.73, 0.76,-5.69, 0.97,-7.04, 1.07,-8.96, 1.02,-10.88, 0.81,-12.42, 0.65,-13.58, 0.55,-12.81, 0.49,-10.12, 0.49,-8.0, 0.41,-6.85, 0.28,-7.12, 0.20,-6.65, 0.31,-5.5, 0.41,-4.54],
  [0.39,-16.08, 0.55,-16.27, 0.62,-17.42, 0.65,-20.5, 0.60,-24.35, 0.07,-24.35, 0.05,-21.27, 0.02,-18.96, 0.13,-18.19, 0.28,-17.04]
];

const tgVsF0Light = [
  [5.591,8.73, 5.803,9.50, 5.883,10.35, 5.949,11.5, 5.891,13.92, 5.927,14.96, 6.066,15.35, 6.139,16.88, 6.157,19.50, 6.606,19.50, 6.620,16.12, 6.704,15.65, 6.803,15.19, 6.854,13.65, 6.854,11.73, 6.796,10.19, 6.715,9.04, 6.657,7.88, 6.657,5.19, 6.730,3.73, 6.832,2.96, 6.949,2.65, 7.058,2.58, 7.131,1.35, 7.131,-1.27, 7.088,-2.88, 6.949,-3.65, 6.942,-5.12, 6.978,-7.42, 6.934,-9.81, 6.832,-11.35, 6.693,-11.85, 6.620,-12.88, 6.584,-14.81, 6.569,-16.65, 6.606,-18.58, 6.631,-24.35, 5.949,-24.35, 5.971,-19.73, 5.949,-16.73, 5.876,-15.19, 5.774,-14.42, 5.591,-13.58],
  [6.887,8.42, 7.051,9.12, 7.197,9.12, 7.343,8.42, 7.562,7.77, 7.562,4.04, 7.234,3.50, 7.051,3.73, 6.905,4.31, 6.850,5.65, 6.832,7.19],
  [5.792,-3.19, 5.839,-3.38, 5.839,-4.54, 5.792,-4.42]
];
const tgVsF0Mid = [
  [6.029,14.50, 6.120,15.35, 6.204,17.0, 6.230,19.50, 6.547,19.50, 6.558,16.04, 6.584,14.58, 6.686,14.69, 6.777,14.12, 6.818,12.58, 6.796,11.04, 6.730,10.19, 6.650,9.81, 6.606,8.92, 6.584,7.19, 6.595,5.27, 6.657,3.92, 6.723,2.38, 6.850,1.81, 6.996,1.42, 7.088,0.27, 7.058,-1.46, 6.942,-2.42, 6.723,-2.81, 6.577,-3.38, 6.504,-3.19, 6.547,-1.65, 6.547,0.27, 6.485,1.23, 6.412,2.38, 6.387,4.12, 6.321,4.58, 6.212,4.88, 6.175,6.42, 6.168,9.12, 6.139,10.85, 6.066,12.0, 6.022,13.15],
  [5.591,-7.42, 5.774,-6.65, 5.847,-5.12, 5.956,-3.77, 6.102,-3.58, 6.285,-3.38, 6.376,-3.58, 6.394,-5.12, 6.321,-6.65, 6.321,-8.58, 6.358,-10.5, 6.449,-12.04, 6.467,-13.58, 6.321,-14.15, 6.139,-14.35, 5.956,-13.96, 5.847,-13.0, 5.774,-12.04, 5.591,-11.27],
  [6.613,-5.12, 6.686,-4.73, 6.832,-4.73, 6.898,-5.5, 6.887,-7.81, 6.850,-9.73, 6.759,-10.12, 6.686,-8.96, 6.595,-8.19, 6.569,-6.65],
  [6.942,7.58, 7.051,8.15, 7.197,8.15, 7.307,7.19, 7.361,6.23, 7.325,5.46, 7.270,4.69, 7.124,4.50, 6.996,4.88, 6.912,5.65, 6.905,6.81],
  [6.047,-16.65, 6.120,-15.88, 6.339,-15.69, 6.460,-16.35, 6.511,-18.0, 6.526,-20.5, 6.584,-24.35, 6.0,-24.35, 6.022,-20.5, 6.022,-18.19]
];
const tgVsF0Dark = [
  [6.376,17.88, 6.474,17.96, 6.489,16.42, 6.485,14.88, 6.438,13.65, 6.394,12.58, 6.412,12.0, 6.485,12.58, 6.595,13.92, 6.686,13.92, 6.741,12.96, 6.741,11.42, 6.686,10.65, 6.606,10.46, 6.558,9.81, 6.547,7.96, 6.533,6.04, 6.467,5.46, 6.321,5.65, 6.266,6.42, 6.248,7.96, 6.248,10.27, 6.230,11.81, 6.248,12.88, 6.193,13.42, 6.139,13.54, 6.131,14.12, 6.193,14.69, 6.255,15.65, 6.314,17.0],
  [6.631,0.46, 6.723,0.73, 6.814,0.46, 6.905,0.08, 6.949,-0.50, 6.905,-1.27, 6.759,-1.58, 6.650,-1.27, 6.606,-0.50],
  [6.193,-4.65, 6.266,-4.92, 6.292,-6.08, 6.230,-6.27, 6.175,-5.69],
  [6.157,-6.85, 6.212,-7.81, 6.230,-9.73, 6.212,-11.65, 6.193,-12.81, 6.102,-12.62, 5.993,-11.27, 5.927,-9.73, 5.938,-8.19, 6.029,-7.42],
  [6.139,-16.73, 6.248,-16.58, 6.376,-17.42, 6.431,-18.96, 6.449,-21.27, 6.449,-24.35, 6.321,-24.35, 6.303,-22.04, 6.248,-20.88, 6.139,-20.5, 6.102,-19.35, 6.102,-17.81]
];

const tgVsF1Light = [
  [-3.7688,17.19, -3.7491,17.19, -3.7455,19.50, -3.7025,19.50, -3.7014,15.65, -3.6864,15.27, -3.6799,13.73, -3.6792,11.81, -3.6864,10.65, -3.6846,9.5, -3.6792,8.73, -3.6613,8.81, -3.6523,7.58, -3.6470,5.27, -3.6398,2.96, -3.6254,2.58, -3.6147,1.81, -3.5986,0.85, -3.5824,0.85, -3.5824,-4.35, -3.5968,-4.35, -3.6075,-6.65, -3.6057,-9.73, -3.6039,-12.81, -3.6022,-15.88, -3.5950,-18.19, -3.5896,-18.96, -3.5896,-24.35, -3.6470,-24.35, -3.6470,-20.5, -3.6487,-17.81, -3.6541,-15.5, -3.6584,-12.81, -3.6631,-9.73, -3.6667,-6.65, -3.6649,-4.73, -3.6649,-3.19, -3.6677,-0.50, -3.6713,2.58, -3.6756,4.31, -3.6864,3.73, -3.7043,3.35, -3.7186,2.58, -3.7294,3.15, -3.7330,3.92, -3.7437,4.31, -3.7491,5.65, -3.7545,7.19, -3.7563,9.12, -3.7552,10.65, -3.7588,11.42, -3.7688,11.62],
  [-3.7581,8.54, -3.7545,8.35, -3.7545,7.19, -3.7581,7.27]
];
const tgVsF1Mid = [
  [-3.7688,16.04, -3.7473,16.12, -3.7430,17.58, -3.7401,19.50, -3.7097,19.50, -3.7097,16.04, -3.7050,14.42, -3.6918,14.31, -3.6842,13.04, -3.6835,10.96, -3.6918,9.81, -3.6953,8.73, -3.6900,7.96, -3.6828,7.27, -3.6792,7.5, -3.6649,7.65, -3.6584,6.42, -3.6523,4.12, -3.6452,1.81, -3.6326,1.42, -3.6201,0.65, -3.6075,0.08, -3.5968,0.27, -3.5824,0.27, -3.5824,-2.81, -3.6075,-2.81, -3.6165,-3.58, -3.6201,-5.12, -3.6183,-7.04, -3.6129,-9.73, -3.6111,-12.81, -3.6093,-16.27, -3.6039,-17.81, -3.5982,-19.73, -3.5993,-24.35, -3.6405,-24.35, -3.6405,-20.5, -3.6441,-18.19, -3.6470,-16.27, -3.6477,-14.35, -3.6541,-12.81, -3.6584,-9.73, -3.6613,-6.65, -3.6584,-4.73, -3.6595,-2.81, -3.6613,-0.88, -3.6649,1.04, -3.6685,4.12, -3.6703,5.65, -3.6792,6.04, -3.6935,4.5, -3.7043,4.12, -3.7186,4.31, -3.7294,4.5, -3.7401,5.46, -3.7437,6.42, -3.7473,7.96, -3.7491,10.27, -3.7473,12.19, -3.7538,12.58, -3.7688,12.38],
  [-3.6219,-1.08, -3.6111,-1.27, -3.5975,-1.65, -3.5975,-2.62, -3.6039,-2.42, -3.6165,-2.04, -3.6226,-1.65]
];
const tgVsF1Dark = [
  [-3.7330,17.38, -3.7222,17.5, -3.7151,17.0, -3.7143,15.65, -3.7204,14.31, -3.7258,13.54, -3.7312,13.92, -3.7394,13.35, -3.7409,14.69, -3.7384,16.04],
  [-3.7265,12.19, -3.7168,12.38, -3.7115,13.35, -3.7043,13.65, -3.6935,13.65, -3.6892,12.58, -3.6892,11.23, -3.6971,10.65, -3.7061,10.85, -3.7097,10.27, -3.7122,8.35, -3.7133,6.23, -3.7186,5.46, -3.7276,5.85, -3.7323,7.19, -3.7323,10.27, -3.7312,11.62],
  [-3.6541,0.27, -3.6470,0.58, -3.6398,0.08, -3.6297,-0.12, -3.6283,-0.69, -3.6326,-1.46, -3.6398,-1.27, -3.6487,-1.27, -3.6552,-0.69],
  [-3.6355,-4.42, -3.6290,-4.73, -3.6254,-5.88, -3.6290,-7.81, -3.6272,-9.73, -3.6290,-11.65, -3.6272,-12.81, -3.6344,-13.19, -3.6416,-12.42, -3.6487,-10.5, -3.6523,-8.19, -3.6505,-6.65, -3.6452,-5.5, -3.6398,-4.73],
  [-3.6326,-16.65, -3.6237,-16.46, -3.6165,-17.42, -3.6111,-18.19, -3.6057,-19.15, -3.6111,-19.92, -3.6183,-20.5, -3.6226,-21.27, -3.6254,-24.35, -3.6344,-24.35, -3.6355,-21.27, -3.6380,-18.58, -3.6380,-17.42]
];

const tgVsPhiLight = [
  [-2.801e-3,9.12, -2.731e-3,12.04, -2.329e-3,12.69, -2.028e-3,12.81, -1.878e-3,13.77, -1.576e-3,14.46, -1.175e-3,14.92, -1.155e-3,17.23, -1.124e-3,19.50, 0.080e-3,19.50, 0.412e-3,17.77, 0.552e-3,16.04, 0.612e-3,13.35, 0.653e-3,11.81, 0.833e-3,10.85, 1.135e-3,10.27, 1.355e-3,9.5, 1.416e-3,7.58, 1.355e-3,5.27, 1.355e-3,3.73, 1.135e-3,3.35, 0.934e-3,4.31, 0.532e-3,4.65, 0.131e-3,4.81, -0.271e-3,4.42, -0.472e-3,3.92, -0.522e-3,2.58, -0.472e-3,0.85, -0.522e-3,-1.27, -0.422e-3,-2.81, -0.221e-3,-4.04, 0.231e-3,-4.54, 0.633e-3,-5.31, 1.135e-3,-5.58, 1.416e-3,-6.46, 1.516e-3,-8.96, 1.616e-3,-10.69, 1.837e-3,-11.27, 2.339e-3,-12.04, 2.339e-3,-17.81, 1.837e-3,-18.38, 1.436e-3,-18.96, 0.934e-3,-18.58, 0.582e-3,-17.81, 0.582e-3,-16.65, 0.181e-3,-15.12, 0.110e-3,-12.81, -0.020e-3,-10.5, -0.221e-3,-8.58, -0.371e-3,-9.73, -0.572e-3,-10.88, -1.275e-3,-11.19, -1.677e-3,-10.5, -1.878e-3,-8.58, -1.958e-3,-5.88, -2.028e-3,-3.58, -2.058e-3,-1.27, -2.028e-3,0.85, -1.878e-3,2.0, -1.526e-3,2.5, -1.275e-3,2.96, -1.225e-3,4.12, -1.476e-3,4.5, -1.878e-3,4.88, -2.480e-3,4.88, -2.731e-3,5.65],
  [-3.283e-3,-15.19, -2.681e-3,-15.12, -2.279e-3,-15.42, -1.978e-3,-15.31, -1.576e-3,-15.58, -1.175e-3,-15.81, -0.773e-3,-16.46, -0.622e-3,-18.19, -0.592e-3,-18.96, -0.271e-3,-18.96, -0.191e-3,-20.12, -0.472e-3,-20.5, -0.622e-3,-21.27, -0.622e-3,-24.35, -1.777e-3,-24.35, -1.827e-3,-20.88, -2.279e-3,-20.5, -2.681e-3,-20.5, -3.283e-3,-20.12],
  [-0.522e-3,-6.27, -0.371e-3,-6.46, -0.351e-3,-7.62, -0.522e-3,-7.73]
];
const tgVsPhiMid = [
  [-2.701e-3,9.12, -2.600e-3,11.62, -2.279e-3,12.12, -1.958e-3,12.27, -1.827e-3,13.15, -1.526e-3,13.81, -1.054e-3,14.42, -1.024e-3,16.81, -0.994e-3,19.50, -0.050e-3,19.50, 0.251e-3,17.58, 0.392e-3,16.04, 0.452e-3,13.35, 0.512e-3,11.42, 0.713e-3,10.27, 0.984e-3,9.58, 1.155e-3,8.92, 1.235e-3,7.58, 1.215e-3,5.65, 0.934e-3,5.19, 0.532e-3,5.42, 0.131e-3,5.58, -0.271e-3,5.19, -0.552e-3,4.69, -0.602e-3,3.81, -0.602e-3,2.19, -0.653e-3,0.85, -0.693e-3,-1.27, -0.622e-3,-3.19, -0.371e-3,-4.73, -0.070e-3,-5.12, 0.331e-3,-5.5, 0.633e-3,-6.08, 1.014e-3,-6.27, 1.285e-3,-7.04, 1.335e-3,-8.96, 1.456e-3,-11.27, 1.737e-3,-12.04, 2.339e-3,-12.81, 2.339e-3,-17.04, 1.737e-3,-17.62, 1.436e-3,-18.19, 1.034e-3,-17.81, 0.733e-3,-17.04, 0.733e-3,-15.88, 1.034e-3,-15.12, 1.185e-3,-14.35, 1.034e-3,-13.96, 0.783e-3,-14.54, 0.532e-3,-14.15, 0.432e-3,-12.81, 0.331e-3,-11.27, 0.231e-3,-9.73, 0.030e-3,-8.19, -0.271e-3,-7.42, -0.472e-3,-8.19, -0.522e-3,-9.73, -0.723e-3,-10.5, -1.275e-3,-10.5, -1.576e-3,-9.73, -1.727e-3,-8.19, -1.777e-3,-5.88, -1.827e-3,-3.58, -1.878e-3,-2.04, -1.878e-3,0.27, -1.797e-3,1.42, -1.476e-3,1.81, -1.175e-3,2.19, -1.054e-3,3.54, -1.074e-3,4.88, -1.325e-3,5.27, -1.677e-3,5.65, -2.078e-3,5.46, -2.480e-3,5.65, -2.660e-3,6.62],
  [-2.882e-3,-16.08, -2.480e-3,-15.88, -2.179e-3,-16.27, -1.978e-3,-16.08, -1.677e-3,-16.27, -1.275e-3,-16.65, -0.924e-3,-17.42, -0.793e-3,-18.96, -0.753e-3,-24.35, -1.596e-3,-24.35, -1.677e-3,-20.5, -1.878e-3,-19.92, -2.179e-3,-19.54, -2.530e-3,-19.73, -2.781e-3,-19.35, -3.283e-3,-18.96, -3.283e-3,-16.65]
];
const tgVsPhiDark = [
  [-0.823e-3,17.58, -0.572e-3,17.96, -0.321e-3,17.96, -0.271e-3,17.38, 0.030e-3,16.81, 0.181e-3,16.04, 0.231e-3,14.50, 0.351e-3,13.27, 0.251e-3,12.19, 0.331e-3,10.27, 0.552e-3,9.12, 0.753e-3,8.27, 0.853e-3,7.19, 0.783e-3,6.23, 0.532e-3,6.04, 0.331e-3,6.23, 0.131e-3,6.62, -0.070e-3,7.0, -0.171e-3,7.96, -0.251e-3,9.5, -0.371e-3,10.96, -0.492e-3,11.42, -0.693e-3,11.42, -0.873e-3,11.62, -0.954e-3,12.5, -0.853e-3,13.15, -0.572e-3,13.15, -0.452e-3,13.42, -0.492e-3,14.5, -0.622e-3,15.27, -0.793e-3,15.65, -0.894e-3,16.42],
  [-1.325e-3,13.73, -1.155e-3,13.54, -1.124e-3,12.58, -1.275e-3,11.42, -1.476e-3,10.65, -1.727e-3,10.46, -1.827e-3,11.23, -1.777e-3,12.19, -1.576e-3,12.77],
  [-2.279e-3,11.62, -2.129e-3,11.42, -2.078e-3,10.27, -2.229e-3,9.88, -2.380e-3,10.46, -2.359e-3,11.23],
  [-0.622e-3,7.96, -0.422e-3,7.38, -0.291e-3,6.04, -0.472e-3,5.46, -0.693e-3,5.58, -0.753e-3,6.81],
  [-0.793e-3,3.54, -0.713e-3,3.15, -0.733e-3,1.81, -0.863e-3,1.81, -0.893e-3,2.77],
  [-1.677e-3,1.23, -1.476e-3,0.46, -1.325e-3,0.73, -1.175e-3,1.42, -1.024e-3,1.04, -1.074e-3,-0.50, -1.074e-3,-1.46, -1.376e-3,-1.65, -1.677e-3,-1.46, -1.727e-3,-0.12],
  [-1.526e-3,-3.58, -1.275e-3,-4.35, -1.124e-3,-4.92, -0.873e-3,-5.12, -0.773e-3,-6.65, -0.653e-3,-8.58, -0.823e-3,-9.54, -1.054e-3,-9.35, -1.124e-3,-7.42, -1.325e-3,-6.27, -1.526e-3,-4.73],
  [-1.074e-3,-2.81, -0.974e-3,-2.88, -0.944e-3,-3.96, -1.054e-3,-4.35, -1.124e-3,-3.58],
  [0.582e-3,-6.85, 0.783e-3,-8.0, 1.034e-3,-7.62, 1.185e-3,-8.19, 1.155e-3,-9.73, 1.034e-3,-11.27, 0.914e-3,-12.81, 0.783e-3,-13.38, 0.633e-3,-12.42, 0.582e-3,-10.5, 0.512e-3,-8.58],
  [-2.681e-3,-17.23, -2.500e-3,-17.62, -2.460e-3,-18.58, -2.580e-3,-18.96, -2.681e-3,-18.38],
  [-1.978e-3,-16.85, -1.777e-3,-16.65, -1.476e-3,-17.23, -1.175e-3,-17.81, -0.974e-3,-18.96, -0.954e-3,-24.35, -1.476e-3,-24.35, -1.576e-3,-20.5, -1.777e-3,-19.35, -2.028e-3,-18.96, -2.129e-3,-18.19, -2.098e-3,-17.42]
];

// ---------- layout ----------
const W = 2704;
const colLeft = [242, 747, 1252, 1756, 2261];
const rowTop = [48, 562, 1076, 1589, 2103];
const AXW = 325, AXH = 361;
const LM = 175, RM = 60, TM = 40, BM = 70;
const FONT = '"DejaVu Sans", sans-serif';
const INK = '#1c1c1c';
const LIGHT = '#afc4e0', MID = '#6495ed', DARK = '#000080', HIST = '#12128f';

const colAxes = [
  {range: dF0Range, ticks: dF0Ticks, labels: dF0TickLabels},
  {range: f0Range, ticks: f0Ticks, labels: f0TickLabels},
  {range: f1Range, ticks: f1Ticks, labels: f1TickLabels},
  {range: phiRange, ticks: phiTicks, labels: phiTickLabels},
  {range: tgRange, ticks: tgTicks, labels: tgTickLabels}
];
const rowAxes = [
  null,
  {range: f0RowRange, ticks: f0RowTicks, labels: f0RowTickLabels},
  {range: f1RowRange, ticks: f1RowTicks, labels: f1RowTickLabels},
  {range: phiRowRange, ticks: phiRowTicks, labels: phiRowTickLabels},
  {range: tgRowRange, ticks: tgRowTicks, labels: tgRowTickLabels}
];
const histEdges = [dF0Edges, f0Edges, f1Edges, phiEdges, tgEdges];
const histCounts = [dF0Counts, f0Counts, f1Counts, phiCounts, tgCounts];

const pairs = [
  {row: 1, col: 0, light: f0VsDf0Light, mid: f0VsDf0Mid, dark: f0VsDf0Dark},
  {row: 2, col: 0, light: f1VsDf0Light, mid: f1VsDf0Mid, dark: f1VsDf0Dark},
  {row: 2, col: 1, light: f1VsF0Light, mid: f1VsF0Mid, dark: f1VsF0Dark},
  {row: 3, col: 0, light: phiVsDf0Light, mid: phiVsDf0Mid, dark: phiVsDf0Dark},
  {row: 3, col: 1, light: phiVsF0Light, mid: phiVsF0Mid, dark: phiVsF0Dark},
  {row: 3, col: 2, light: phiVsF1Light, mid: phiVsF1Mid, dark: phiVsF1Dark},
  {row: 4, col: 0, light: tgVsDf0Light, mid: tgVsDf0Mid, dark: tgVsDf0Dark},
  {row: 4, col: 1, light: tgVsF0Light, mid: tgVsF0Mid, dark: tgVsF0Dark},
  {row: 4, col: 2, light: tgVsF1Light, mid: tgVsF1Mid, dark: tgVsF1Dark},
  {row: 4, col: 3, light: tgVsPhiLight, mid: tgVsPhiMid, dark: tgVsPhiDark}
];

function ringPoints(flat) {
  const pts = [];
  for (let i = 0; i < flat.length; i += 2) pts.push({x: flat[i], y: flat[i + 1]});
  pts.push({x: flat[0], y: flat[1]});
  return pts;
}

function stepPoints(edges, counts) {
  const pts = [{x: edges[0], y: 0}];
  counts.forEach((c, i) => pts.push({x: edges[i], y: c}));
  pts.push({x: edges[edges.length - 1], y: 0});
  return pts;
}

// white axes background + four spines
const frame = {
  id: 'frame',
  beforeDraw(chart) {
    const a = chart.chartArea, ctx = chart.ctx;
    ctx.save();
    ctx.fillStyle = '#ffffff';
    ctx.fillRect(a.left, a.top, a.right - a.left, a.bottom - a.top);
    ctx.restore();
  },
  afterDraw(chart) {
    const a = chart.chartArea, ctx = chart.ctx;
    ctx.save();
    ctx.strokeStyle = INK;
    ctx.lineWidth = 2;
    ctx.strokeRect(a.left, a.top, a.right - a.left, a.bottom - a.top);
    ctx.restore();
  }
};

function axisOpts(ax, isX) {
  return {
    type: 'linear',
    min: ax.range[0],
    max: ax.range[1],
    bounds: 'data',
    afterBuildTicks: s => { s.ticks = ax.ticks.map(v => ({value: v})); },
    afterFit: s => { if (isX) s.height = BM; else s.width = LM; },
    ticks: {
      autoSkip: false, maxRotation: 0, minRotation: 0,
      padding: isX ? 6 : 13,
      color: INK,
      font: {family: FONT, size: 35},
      callback: v => ax.labels[ax.ticks.indexOf(v)]
    },
    grid: {
      display: true, drawOnChartArea: false, drawTicks: true,
      tickLength: 8, tickWidth: 2, tickColor: INK, color: INK, lineWidth: 2
    },
    border: {display: false}
  };
}

function panel(col, row, xAx, yAx, datasets) {
  const cv = document.createElement('canvas');
  cv.width = AXW + LM + RM;
  cv.height = AXH + TM + BM;
  cv.style.left = (colLeft[col] - LM) + 'px';
  cv.style.top = (rowTop[row] - TM) + 'px';
  document.body.appendChild(cv);
  new Chart(cv, {
    type: 'scatter',
    data: {datasets},
    options: {
      responsive: false,
      animation: false,
      devicePixelRatio: 1,
      layout: {autoPadding: false, padding: {left: 0, right: RM, top: TM, bottom: 0}},
      plugins: {legend: {display: false}, tooltip: {enabled: false}},
      elements: {point: {radius: 0}, line: {capBezierPoints: false}},
      scales: {x: axisOpts(xAx, true), y: axisOpts(yAx, false)}
    },
    plugins: [frame]
  });
}

function contourSets(rings, color, width) {
  return rings.map(r => ({
    data: ringPoints(r), showLine: true, borderColor: color, borderWidth: width,
    tension: 0.3, fill: false, clip: 0, pointRadius: 0
  }));
}

function addText(str, x, baseline, align, size, extra) {
  const d = document.createElement('div');
  d.className = 't';
  d.textContent = str;
  d.style.fontSize = size + 'px';
  d.style.top = (baseline - 0.846 * size) + 'px';
  if (align === 'right') d.style.right = (W - x) + 'px';
  else if (align === 'center') { d.style.left = x + 'px'; d.style.transform = 'translateX(-50%)'; }
  else d.style.left = x + 'px';
  if (extra) Object.assign(d.style, extra);
  document.body.appendChild(d);
}

function addVText(str, cx, cy, size) {
  const d = document.createElement('div');
  d.className = 't';
  d.textContent = str;
  d.style.fontSize = size + 'px';
  d.style.left = cx + 'px';
  d.style.top = cy + 'px';
  d.style.transform = 'translate(-50%,-50%) rotate(-90deg)';
  document.body.appendChild(d);
}

// diagonal histograms
for (let i = 0; i < 5; i++) {
  const yAx = {range: [0, histYMax[i]], ticks: histYTicks[i], labels: histYTicks[i].map(String)};
  panel(i, i, colAxes[i], yAx, [{
    data: stepPoints(histEdges[i], histCounts[i]), showLine: true, stepped: 'before',
    borderColor: HIST, borderWidth: 2.6, fill: false, clip: 0, pointRadius: 0
  }]);
}

// lower-triangle contour panels
pairs.forEach(p => {
  panel(p.col, p.row, colAxes[p.col], rowAxes[p.row], [
    ...contourSets(p.light, LIGHT, 4.2),
    ...contourSets(p.mid, MID, 3.3),
    ...contourSets(p.dark, DARK, 3.6)
  ]);
  if (rowOffsets[p.row]) addText(rowOffsets[p.row], colLeft[p.col], rowTop[p.row] - 9, 'left', 36);
});

// x offset texts under every panel in a column
for (let r = 0; r < 5; r++) {
  for (let c = 0; c <= r; c++) {
    if (colOffsets[c]) addText(colOffsets[c], colLeft[c] + AXW, rowTop[r] + AXH + 86, 'right', 36);
  }
}

// axis titles
const yTitleX = [0, 130, 80, 56, 114];
for (let c = 0; c < 5; c++) addText(paramNames[c], colLeft[c] + AXW / 2, 2590, 'center', 36);
for (let r = 1; r < 5; r++) addVText(paramNames[r], yTitleX[r], rowTop[r] + AXH / 2, 36);

// watermark
addText('Preliminary', 670, 415, 'left', 106, {fontWeight: 'bold', letterSpacing: '15px', color: '#f57b7e'});
</script>
</body>
</html>
